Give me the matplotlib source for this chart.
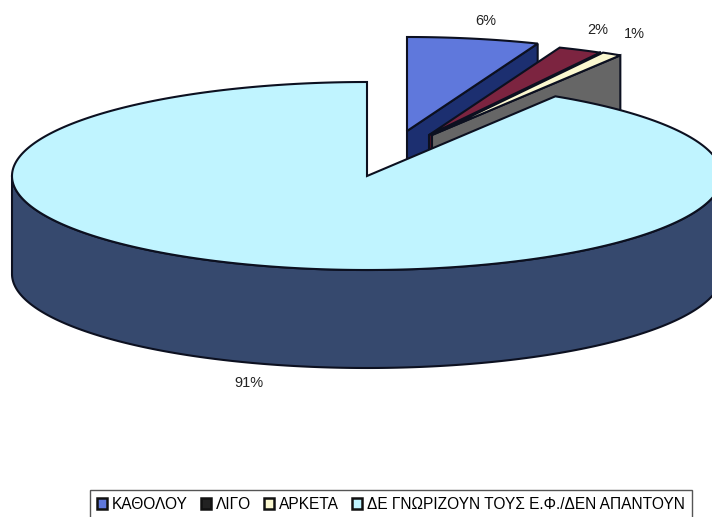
import numpy as np
import matplotlib
matplotlib.use("Agg")
import matplotlib.pyplot as plt
from matplotlib.patches import Polygon, Patch

categories = ["ΚΑΘΟΛΟΥ", "ΛΙΓΟ", "ΑΡΚΕΤΑ", "ΔΕ ΓΝΩΡΙΖΟΥΝ ΤΟΥΣ Ε.Φ./ΔΕΝ ΑΠΑΝΤΟΥΝ"]
values = [6, 2, 0.9, 91.1]
labels = ["6%", "2%", "1%", "91%"]
top_colors = ["#5f78dc", "#7c2440", "#fbf8d0", "#c0f4ff"]
side_colors = ["#1c2f70", "#4a1526", "#666666", "#36496e"]
legend_colors = ["#5f78dc", "#222222", "#fbf8d0", "#c0f4ff"]
apexes = [(407, 131), (429, 135), (432, 135), (367, 176)]
label_pos = [(486, 21), (598, 30), (634, 34), (249, 383)]

RX, RY, DEPTH = 355, 94, 98
EDGE = "#0c1020"

fig = plt.figure(figsize=(7.12, 5.17), dpi=100)
ax = fig.add_axes([0, 0, 1, 1])
ax.set_xlim(0, 712)
ax.set_ylim(517, 0)
ax.axis("off")


def rim(apex, a0, a1, n=160):
    t = np.linspace(a0, a1, n)
    return np.column_stack([apex[0] + RX * np.sin(t), apex[1] - RY * np.cos(t)])


fractions = np.cumsum([0] + values) / sum(values) * 2 * np.pi

for i in range(3):
    a0, a1 = fractions[i], fractions[i + 1]
    apex = apexes[i]
    arc = rim(apex, a0, a1)
    # cut face seen from the front, then the top of the slice
    end = arc[-1]
    face = [apex, end, (end[0], end[1] + DEPTH), (apex[0], apex[1] + DEPTH)]
    ax.add_patch(Polygon(face, fc=side_colors[i], ec=EDGE, lw=1.5, zorder=2 + i))
    ax.add_patch(Polygon(np.vstack([[apex], arc]), fc=top_colors[i], ec=EDGE, lw=1.5, zorder=2 + i))

# large slice: outer wall, then top
a0, a1 = fractions[3], fractions[4]
apex = apexes[3]
arc = rim(apex, a0, a1, 400)
front = arc[(arc[:, 1] >= apex[1] - 1)]
front = front[np.argsort(front[:, 0])]
wall = np.vstack([front, (front + [0, DEPTH])[::-1]])
ax.add_patch(Polygon(wall, fc=side_colors[3], ec=EDGE, lw=1.5, zorder=6))
ax.add_patch(Polygon(np.vstack([[apex], arc]), fc=top_colors[3], ec=EDGE, lw=1.5, zorder=7))

for (x, y), s in zip(label_pos, labels):
    ax.text(x, y, s, ha="center", va="center", fontsize=10.5,
            family="Liberation Sans", color="#222222", zorder=9)

handles = [Patch(fc=c, ec="#111111", lw=1.8) for c in legend_colors]
leg = ax.legend(handles, categories, loc="lower left", ncol=4,
                bbox_to_anchor=(90, 519), bbox_transform=ax.transData,
                prop={"family": "Liberation Sans", "size": 11.2},
                frameon=True, fancybox=False, edgecolor="#555555", framealpha=1,
                borderaxespad=0, handlelength=0.65, handleheight=0.65,
                handletextpad=0.3, columnspacing=0.85, borderpad=0.45)
leg.get_frame().set_linewidth(1.0)
leg.set_zorder(10)

fig.savefig("out.png", dpi=100)
